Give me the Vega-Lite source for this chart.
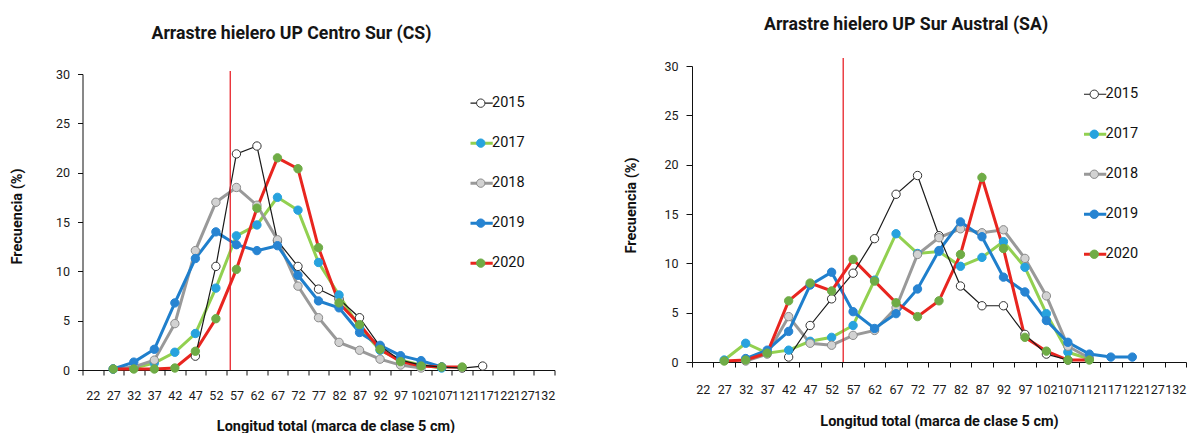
{
  "$schema": "https://vega.github.io/schema/vega-lite/v6.json",
  "padding": {"left": 9.5, "top": 15, "right": 0, "bottom": 0},
  "spacing": 67.5,
  "resolve": {"scale": {"color": "independent", "fill": "independent", "stroke": "independent"}},
  "config": {
    "view": {"stroke": null},
    "font": "Roboto",
    "title": {"font": "Roboto", "fontSize": 17.7, "fontWeight": "bold", "color": "#151515"},
    "axis": {
      "grid": false,
      "domainColor": "#111", "tickColor": "#111", "domainWidth": 1, "tickWidth": 1,
      "labelFont": "Roboto", "labelFontSize": 12.5, "labelColor": "#1a1a1a",
      "titleFont": "Roboto", "titleFontSize": 14.5, "titleFontWeight": "bold", "titleColor": "#111"
    },
    "legend": {"labelFont": "Roboto", "labelFontSize": 14.5, "labelColor": "#111"}
  },
  "datasets": {
    "cs": [
      {"year": "2015", "L": 47, "pct": 1.4}, {"year": "2015", "L": 52, "pct": 10.5}, {"year": "2015", "L": 57, "pct": 21.9},
      {"year": "2015", "L": 62, "pct": 22.7}, {"year": "2015", "L": 67, "pct": 13.1}, {"year": "2015", "L": 72, "pct": 10.5},
      {"year": "2015", "L": 77, "pct": 8.2}, {"year": "2015", "L": 82, "pct": 7.2}, {"year": "2015", "L": 87, "pct": 5.3},
      {"year": "2015", "L": 92, "pct": 2.4}, {"year": "2015", "L": 97, "pct": 1.0}, {"year": "2015", "L": 102, "pct": 0.5},
      {"year": "2015", "L": 107, "pct": 0.3}, {"year": "2015", "L": 112, "pct": 0.2}, {"year": "2015", "L": 117, "pct": 0.4},

      {"year": "2017", "L": 27, "pct": 0.1}, {"year": "2017", "L": 32, "pct": 0.2}, {"year": "2017", "L": 37, "pct": 0.7},
      {"year": "2017", "L": 42, "pct": 1.8}, {"year": "2017", "L": 47, "pct": 3.7}, {"year": "2017", "L": 52, "pct": 8.3},
      {"year": "2017", "L": 57, "pct": 13.6}, {"year": "2017", "L": 62, "pct": 14.7}, {"year": "2017", "L": 67, "pct": 17.5},
      {"year": "2017", "L": 72, "pct": 16.2}, {"year": "2017", "L": 77, "pct": 10.9}, {"year": "2017", "L": 82, "pct": 7.6},
      {"year": "2017", "L": 87, "pct": 4.3}, {"year": "2017", "L": 92, "pct": 2.0}, {"year": "2017", "L": 97, "pct": 1.0},
      {"year": "2017", "L": 102, "pct": 0.5}, {"year": "2017", "L": 107, "pct": 0.2},

      {"year": "2018", "L": 27, "pct": 0.1}, {"year": "2018", "L": 32, "pct": 0.3}, {"year": "2018", "L": 37, "pct": 1.0},
      {"year": "2018", "L": 42, "pct": 4.7}, {"year": "2018", "L": 47, "pct": 12.1}, {"year": "2018", "L": 52, "pct": 17.0},
      {"year": "2018", "L": 57, "pct": 18.5}, {"year": "2018", "L": 62, "pct": 16.7}, {"year": "2018", "L": 67, "pct": 13.2},
      {"year": "2018", "L": 72, "pct": 8.5}, {"year": "2018", "L": 77, "pct": 5.3}, {"year": "2018", "L": 82, "pct": 2.8},
      {"year": "2018", "L": 87, "pct": 2.0}, {"year": "2018", "L": 92, "pct": 1.1}, {"year": "2018", "L": 97, "pct": 0.5},
      {"year": "2018", "L": 102, "pct": 0.2},

      {"year": "2019", "L": 27, "pct": 0.1}, {"year": "2019", "L": 32, "pct": 0.8}, {"year": "2019", "L": 37, "pct": 2.1},
      {"year": "2019", "L": 42, "pct": 6.8}, {"year": "2019", "L": 47, "pct": 11.3}, {"year": "2019", "L": 52, "pct": 14.0},
      {"year": "2019", "L": 57, "pct": 12.7}, {"year": "2019", "L": 62, "pct": 12.1}, {"year": "2019", "L": 67, "pct": 12.6},
      {"year": "2019", "L": 72, "pct": 9.6}, {"year": "2019", "L": 77, "pct": 7.0}, {"year": "2019", "L": 82, "pct": 6.3},
      {"year": "2019", "L": 87, "pct": 3.8}, {"year": "2019", "L": 92, "pct": 2.5}, {"year": "2019", "L": 97, "pct": 1.45},
      {"year": "2019", "L": 102, "pct": 0.95}, {"year": "2019", "L": 107, "pct": 0.3},

      {"year": "2020", "L": 27, "pct": 0.1}, {"year": "2020", "L": 32, "pct": 0.1}, {"year": "2020", "L": 37, "pct": 0.1},
      {"year": "2020", "L": 42, "pct": 0.2}, {"year": "2020", "L": 47, "pct": 1.9}, {"year": "2020", "L": 52, "pct": 5.2},
      {"year": "2020", "L": 57, "pct": 10.2}, {"year": "2020", "L": 62, "pct": 16.4}, {"year": "2020", "L": 67, "pct": 21.5},
      {"year": "2020", "L": 72, "pct": 20.4}, {"year": "2020", "L": 77, "pct": 12.4}, {"year": "2020", "L": 82, "pct": 6.8},
      {"year": "2020", "L": 87, "pct": 4.6}, {"year": "2020", "L": 92, "pct": 2.1}, {"year": "2020", "L": 97, "pct": 0.85},
      {"year": "2020", "L": 102, "pct": 0.4}, {"year": "2020", "L": 107, "pct": 0.3}, {"year": "2020", "L": 112, "pct": 0.3}
    ],
    "sa": [
      {"year": "2015", "L": 42, "pct": 0.5}, {"year": "2015", "L": 47, "pct": 3.7}, {"year": "2015", "L": 52, "pct": 6.4},
      {"year": "2015", "L": 57, "pct": 9.0}, {"year": "2015", "L": 62, "pct": 12.5}, {"year": "2015", "L": 67, "pct": 17.0},
      {"year": "2015", "L": 72, "pct": 18.9}, {"year": "2015", "L": 77, "pct": 12.8}, {"year": "2015", "L": 82, "pct": 7.7},
      {"year": "2015", "L": 87, "pct": 5.7}, {"year": "2015", "L": 92, "pct": 5.7}, {"year": "2015", "L": 97, "pct": 2.8},
      {"year": "2015", "L": 102, "pct": 0.8}, {"year": "2015", "L": 107, "pct": 0.2},

      {"year": "2017", "L": 27, "pct": 0.2}, {"year": "2017", "L": 32, "pct": 1.9}, {"year": "2017", "L": 37, "pct": 0.9},
      {"year": "2017", "L": 42, "pct": 1.2}, {"year": "2017", "L": 47, "pct": 2.1}, {"year": "2017", "L": 52, "pct": 2.5},
      {"year": "2017", "L": 57, "pct": 3.7}, {"year": "2017", "L": 62, "pct": 8.3}, {"year": "2017", "L": 67, "pct": 13.0},
      {"year": "2017", "L": 72, "pct": 11.0}, {"year": "2017", "L": 77, "pct": 11.2}, {"year": "2017", "L": 82, "pct": 9.7},
      {"year": "2017", "L": 87, "pct": 10.6}, {"year": "2017", "L": 92, "pct": 12.2}, {"year": "2017", "L": 97, "pct": 9.6},
      {"year": "2017", "L": 102, "pct": 4.9}, {"year": "2017", "L": 107, "pct": 1.0}, {"year": "2017", "L": 112, "pct": 0.3},

      {"year": "2018", "L": 32, "pct": 0.1}, {"year": "2018", "L": 37, "pct": 0.8}, {"year": "2018", "L": 42, "pct": 4.6},
      {"year": "2018", "L": 47, "pct": 1.9}, {"year": "2018", "L": 52, "pct": 1.7}, {"year": "2018", "L": 57, "pct": 2.7},
      {"year": "2018", "L": 62, "pct": 3.2}, {"year": "2018", "L": 67, "pct": 5.5}, {"year": "2018", "L": 72, "pct": 10.9},
      {"year": "2018", "L": 77, "pct": 12.6}, {"year": "2018", "L": 82, "pct": 13.5}, {"year": "2018", "L": 87, "pct": 13.1},
      {"year": "2018", "L": 92, "pct": 13.4}, {"year": "2018", "L": 97, "pct": 10.5}, {"year": "2018", "L": 102, "pct": 6.7},
      {"year": "2018", "L": 107, "pct": 1.6}, {"year": "2018", "L": 112, "pct": 0.4},

      {"year": "2019", "L": 32, "pct": 0.35}, {"year": "2019", "L": 37, "pct": 1.2}, {"year": "2019", "L": 42, "pct": 3.1},
      {"year": "2019", "L": 47, "pct": 7.8}, {"year": "2019", "L": 52, "pct": 9.1}, {"year": "2019", "L": 57, "pct": 5.1},
      {"year": "2019", "L": 62, "pct": 3.4}, {"year": "2019", "L": 67, "pct": 4.9}, {"year": "2019", "L": 72, "pct": 7.4},
      {"year": "2019", "L": 77, "pct": 11.3}, {"year": "2019", "L": 82, "pct": 14.2}, {"year": "2019", "L": 87, "pct": 12.7},
      {"year": "2019", "L": 92, "pct": 8.6}, {"year": "2019", "L": 97, "pct": 7.1}, {"year": "2019", "L": 102, "pct": 4.2},
      {"year": "2019", "L": 107, "pct": 2.0}, {"year": "2019", "L": 112, "pct": 0.8}, {"year": "2019", "L": 117, "pct": 0.5},
      {"year": "2019", "L": 122, "pct": 0.5},

      {"year": "2020", "L": 27, "pct": 0.1}, {"year": "2020", "L": 32, "pct": 0.2}, {"year": "2020", "L": 37, "pct": 0.9},
      {"year": "2020", "L": 42, "pct": 6.2}, {"year": "2020", "L": 47, "pct": 8.0}, {"year": "2020", "L": 52, "pct": 7.2},
      {"year": "2020", "L": 57, "pct": 10.4}, {"year": "2020", "L": 62, "pct": 8.2}, {"year": "2020", "L": 67, "pct": 6.0},
      {"year": "2020", "L": 72, "pct": 4.6}, {"year": "2020", "L": 77, "pct": 6.2}, {"year": "2020", "L": 82, "pct": 10.9},
      {"year": "2020", "L": 87, "pct": 18.7}, {"year": "2020", "L": 92, "pct": 11.5}, {"year": "2020", "L": 97, "pct": 2.5},
      {"year": "2020", "L": 102, "pct": 1.1}, {"year": "2020", "L": 107, "pct": 0.2}, {"year": "2020", "L": 112, "pct": 0.2}
    ],
    "cs_cut": [{"L": 57, "bottom": 0, "top": 30.3}],
    "sa_cut": [{"L": 57, "bottom": 0, "top": 30.8}]
  },
  "hconcat": [
    {
      "width": 472,
      "height": 304,
      "title": {"text": "Arrastre hielero UP Centro Sur (CS)", "anchor": "start", "dx": 142, "offset": 23},
      "data": {"name": "cs"},
      "layer": [
        {
          "transform": [{"filter": "datum.year !== '2015'"}],
          "mark": {"type": "line", "strokeWidth": 3},
          "encoding": {
            "x": {
              "field": "L", "type": "ordinal",
              "scale": {"type": "band", "domain": [22, 27, 32, 37, 42, 47, 52, 57, 62, 67, 72, 77, 82, 87, 92, 97, 102, 107, 112, 117, 122, 127, 132], "paddingInner": 0, "paddingOuter": 0},
              "axis": {"title": "Longitud total (marca de clase 5 cm)", "labelAngle": 0, "labelOverlap": false, "tickBand": "extent", "tickSize": 5, "labelPadding": 14, "titleX": 253, "titleY": 49}
            },
            "y": {
              "field": "pct", "type": "quantitative",
              "scale": {"domain": [0, 30], "range": [304, 8], "nice": false},
              "axis": {"title": "Frecuencia (%)", "values": [0, 5, 10, 15, 20, 25, 30], "tickSize": 5, "labelPadding": 8, "titleX": -58, "titleY": 150}
            },
            "color": {
              "field": "year", "type": "nominal",
              "scale": {"domain": ["2015", "2017", "2018", "2019", "2020"], "range": ["#1a1a1a", "#92d050", "#999999", "#1f7fcc", "#e8251f"]},
              "legend": {"orient": "none", "legendX": 388, "legendY": 17.5, "title": null, "symbolType": "stroke", "symbolSize": 900, "symbolStrokeWidth": 3, "clipHeight": 39.3, "rowPadding": 0, "padding": 0, "labelOffset": 7,
                "encode": {"symbols": {"update": {"strokeWidth": {"signal": "datum.value === '2015' ? 1.2 : 3"}}}}}
            }
          }
        },
        {
          "transform": [{"filter": "datum.year === '2015'"}],
          "mark": {"type": "line", "strokeWidth": 1.2},
          "encoding": {
            "x": {"field": "L", "type": "ordinal"},
            "y": {"field": "pct", "type": "quantitative"},
            "color": {"field": "year", "type": "nominal"}
          }
        },
        {
          "mark": {"type": "point", "filled": true, "size": 70, "strokeWidth": 1, "opacity": 1},
          "encoding": {
            "x": {"field": "L", "type": "ordinal"},
            "y": {"field": "pct", "type": "quantitative"},
            "fill": {
              "field": "year", "type": "nominal",
              "scale": {"domain": ["2015", "2017", "2018", "2019", "2020", "-"], "range": ["#ffffff", "#27a2de", "#d2d2d2", "#2784d2", "#6fac46", "#ffffff"]},
              "legend": {"orient": "none", "legendX": 391, "legendY": 17.5, "title": null, "values": ["2015", "2017", "2018", "2019", "2020"], "symbolType": "circle", "symbolSize": 70, "symbolStrokeWidth": 1, "clipHeight": 39.3, "rowPadding": 0, "padding": 0, "labelOpacity": 0}
            },
            "stroke": {
              "field": "year", "type": "nominal",
              "scale": {"domain": ["2015", "2017", "2018", "2019", "2020", "-"], "range": ["#333333", "#27a2de", "#8a8a8a", "#2784d2", "#6fac46", "#ffffff"]},
              "legend": {"orient": "none", "legendX": 391, "legendY": 17.5, "title": null, "values": ["2015", "2017", "2018", "2019", "2020"], "symbolType": "circle", "symbolSize": 70, "symbolStrokeWidth": 1, "clipHeight": 39.3, "rowPadding": 0, "padding": 0, "labelOpacity": 0}
            }
          }
        },
        {
          "data": {"name": "cs_cut"},
          "mark": {"type": "rule", "color": "#e8232a", "strokeWidth": 1.3},
          "encoding": {
            "x": {"field": "L", "type": "ordinal", "bandPosition": 0.2},
            "y": {"field": "bottom", "type": "quantitative"},
            "y2": {"field": "top"}
          }
        }
      ]
    },
    {
      "width": 494,
      "height": 304,
      "title": {"text": "Arrastre hielero UP Sur Austral (SA)", "anchor": "start", "dx": 141, "offset": 24},
      "data": {"name": "sa"},
      "layer": [
        {
          "transform": [{"filter": "datum.year !== '2015'"}],
          "mark": {"type": "line", "strokeWidth": 3},
          "encoding": {
            "x": {
              "field": "L", "type": "ordinal",
              "scale": {"type": "band", "domain": [22, 27, 32, 37, 42, 47, 52, 57, 62, 67, 72, 77, 82, 87, 92, 97, 102, 107, 112, 117, 122, 127, 132], "paddingInner": 0, "paddingOuter": 0},
              "axis": {"title": "Longitud total (marca de clase 5 cm)", "labelAngle": 0, "labelOverlap": false, "tickBand": "extent", "tickSize": 5, "labelPadding": 16, "offset": -8, "titleY": 52}
            },
            "y": {
              "field": "pct", "type": "quantitative",
              "scale": {"domain": [0, 30], "range": [296, 0], "nice": false},
              "axis": {"title": "Frecuencia (%)", "values": [0, 5, 10, 15, 20, 25, 30], "tickSize": 6, "labelPadding": 8, "titleX": -54, "titleY": 139}
            },
            "color": {
              "field": "year", "type": "nominal",
              "scale": {"domain": ["2015", "2017", "2018", "2019", "2020"], "range": ["#1a1a1a", "#92d050", "#999999", "#1f7fcc", "#e8251f"]},
              "legend": {"orient": "none", "legendX": 392, "legendY": 8.5, "title": null, "symbolType": "stroke", "symbolSize": 900, "symbolStrokeWidth": 3, "clipHeight": 39.5, "rowPadding": 0, "padding": 0, "labelOffset": 7,
                "encode": {"symbols": {"update": {"strokeWidth": {"signal": "datum.value === '2015' ? 1.2 : 3"}}}}}
            }
          }
        },
        {
          "transform": [{"filter": "datum.year === '2015'"}],
          "mark": {"type": "line", "strokeWidth": 1.2},
          "encoding": {
            "x": {"field": "L", "type": "ordinal"},
            "y": {"field": "pct", "type": "quantitative"},
            "color": {"field": "year", "type": "nominal"}
          }
        },
        {
          "mark": {"type": "point", "filled": true, "size": 70, "strokeWidth": 1, "opacity": 1},
          "encoding": {
            "x": {"field": "L", "type": "ordinal"},
            "y": {"field": "pct", "type": "quantitative"},
            "fill": {
              "field": "year", "type": "nominal",
              "scale": {"domain": ["2015", "2017", "2018", "2019", "2020", "-"], "range": ["#ffffff", "#27a2de", "#d2d2d2", "#2784d2", "#6fac46", "#ffffff"]},
              "legend": {"orient": "none", "legendX": 395, "legendY": 8.5, "title": null, "values": ["2015", "2017", "2018", "2019", "2020"], "symbolType": "circle", "symbolSize": 70, "symbolStrokeWidth": 1, "clipHeight": 39.5, "rowPadding": 0, "padding": 0, "labelOpacity": 0}
            },
            "stroke": {
              "field": "year", "type": "nominal",
              "scale": {"domain": ["2015", "2017", "2018", "2019", "2020", "-"], "range": ["#333333", "#27a2de", "#8a8a8a", "#2784d2", "#6fac46", "#ffffff"]},
              "legend": {"orient": "none", "legendX": 395, "legendY": 8.5, "title": null, "values": ["2015", "2017", "2018", "2019", "2020"], "symbolType": "circle", "symbolSize": 70, "symbolStrokeWidth": 1, "clipHeight": 39.5, "rowPadding": 0, "padding": 0, "labelOpacity": 0}
            }
          }
        },
        {
          "data": {"name": "sa_cut"},
          "mark": {"type": "rule", "color": "#e8232a", "strokeWidth": 1.3},
          "encoding": {
            "x": {"field": "L", "type": "ordinal", "bandPosition": 0.04},
            "y": {"field": "bottom", "type": "quantitative"},
            "y2": {"field": "top"}
          }
        }
      ]
    }
  ]
}
